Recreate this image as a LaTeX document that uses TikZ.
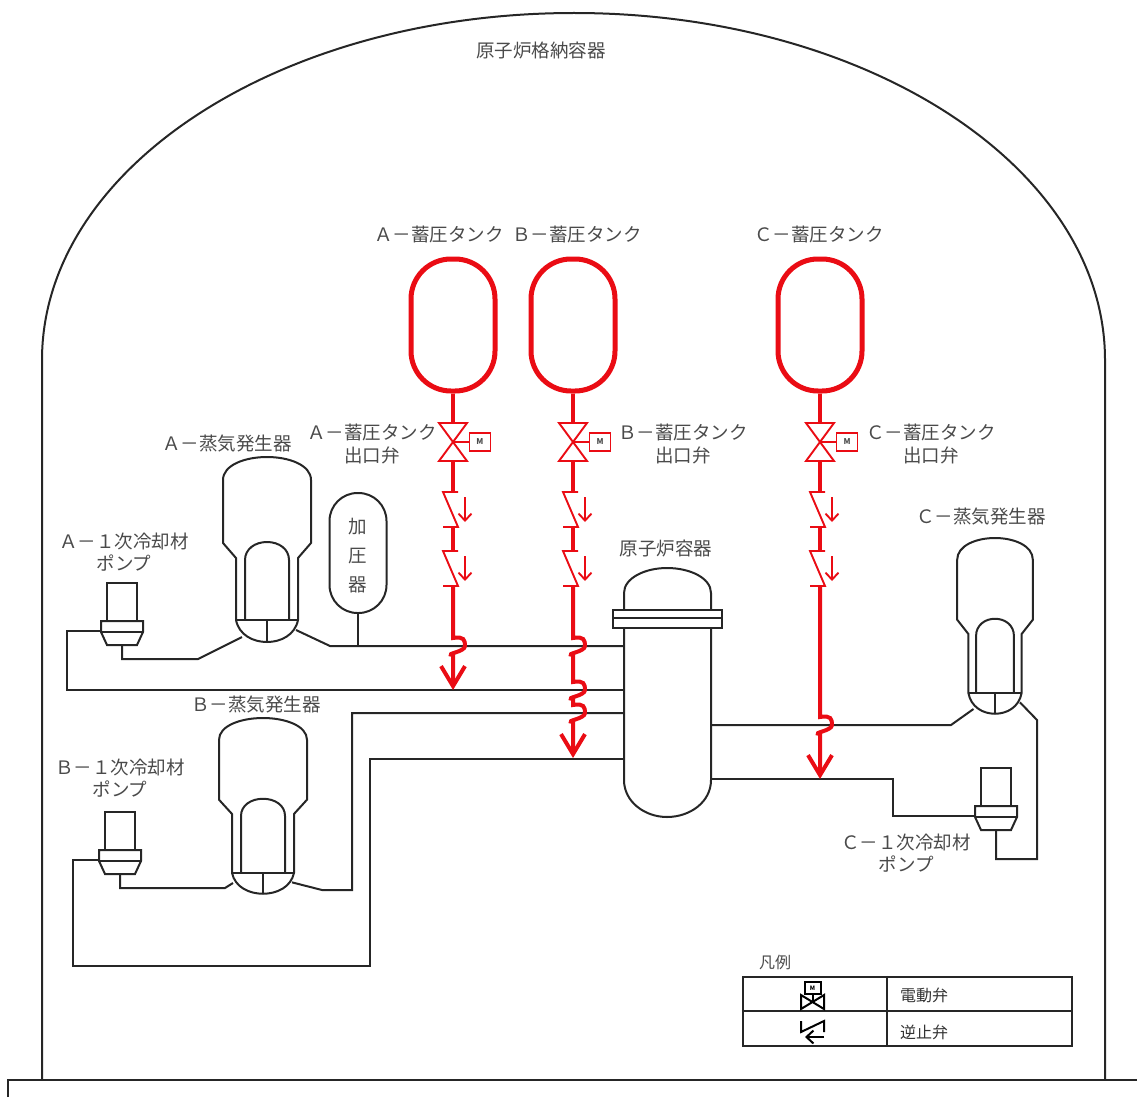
\documentclass[tikz,border=0pt]{standalone}
\usepackage{fontspec}
\setmainfont{Noto Sans CJK JP}
\usetikzlibrary{arrows.meta}
\definecolor{inj-red}{HTML}{EA0C14}
\definecolor{lbl-gray}{HTML}{4A4A4A}

\begin{document}
\begin{tikzpicture}[
    x=1pt, y=-1pt,
    pipe/.style={line width=2pt, black!85},
    inj/.style={line width=4pt, inj-red},
    thin-red/.style={line width=1.9pt, inj-red},
    lbl/.style={font=\fontsize{18.5}{22.5}\selectfont, text=lbl-gray, align=center, inner sep=0},
    leg/.style={font=\fontsize{16}{18}\selectfont, text=black!80, inner sep=0},
    tank/.style={draw=inj-red, line width=5pt, rounded corners=40pt, minimum width=84pt, minimum height=132pt},
    motor/.style={draw=inj-red, line width=1.9pt, minimum width=21pt, minimum height=18pt, inner sep=0,
                  font=\fontsize{8}{8}\selectfont\bfseries, text=black!70},
    hop/.style={insert path={.. controls +(11,-2) and +(0,-6) .. ++(12,8) .. controls +(0,6) and +(-9,-1) .. ++(-12,9)}},
    barb/.style={-{Straight Barb[length=20pt, width=24pt, line width=4pt]}},
    sgen/.pic={
        \draw[pipe] (-44,23) .. controls (-44,8) and (-22,0) .. (0,0) .. controls (22,0) and (44,8) .. (44,23)
            -- (44,86) -- (31,101) -- (31,163) .. controls (28,178) and (14,185) .. (0,185)
            .. controls (-14,185) and (-28,178) .. (-31,163) -- (-31,101) -- (-44,86) -- cycle;
        \draw[pipe] (-22,163) -- (-22,103) .. controls (-22,92) and (-12,85) .. (0,85)
            .. controls (12,85) and (22,92) .. (22,103) -- (22,163);
        \draw[pipe] (-31,163) -- (31,163) (0,163) -- (0,185);
        \coordinate (-in) at (-25,180);
        \coordinate (-out) at (29,173);
    },
    rcpump/.pic={
        \draw[pipe] (-15,0) -- (-15,-38) -- (15,-38) -- (15,0);
        \draw[pipe] (-21,0) -- (21,0) -- (21,11) -- (15,24) -- (-15,24) -- (-21,11) -- cycle;
        \draw[pipe] (-21,11) -- (21,11);
        \coordinate (-side) at (-21,10);
        \coordinate (-bot) at (0,24);
    },
    valve/.pic={
        \draw[thin-red] (-14,-19) -- (14,-19) -- (-14,19) -- (14,19) -- cycle;
        \node[motor] (-m) at (27,0) {M};
        \draw[thin-red] (0,0) -- (-m);
        \coordinate (-top) at (0,-19);
        \coordinate (-bot) at (0,19);
    },
    checkv/.pic={
        \draw[thin-red] (5,0) -- (-10,0) -- (5,35) -- (-10,35);
        \draw[thin-red, -{Straight Barb[length=7pt, width=13pt]}] (12,5) -- (12,30);
        \coordinate (-top) at (0,0);
        \coordinate (-bot) at (0,35);
    },
]
    \useasboundingbox (0,0) rectangle (1137,1097);

    % Containment vessel
    \draw[pipe] (42,1080) -- (42,360) .. controls (42,168) and (280,13) .. (574,13)
        .. controls (868,13) and (1105,168) .. (1105,360) -- (1105,1080);
    \draw[pipe] (8,1097) -- (8,1080) -- (1137,1080);
    \node[lbl] (cv) at (541,50) {原子炉格納容器};

    % Reactor vessel
    \draw[pipe] (624,593) .. controls (624,578) and (645,568) .. (667,568) .. controls (690,568) and (711,578) .. (711,593)
        -- (711,780) .. controls (711,802) and (690,817) .. (667,817) .. controls (645,817) and (624,802) .. (624,780) -- cycle;
    \draw[pipe, fill=white] (613,610) rectangle (722,628);
    \draw[pipe] (613,618) -- (722,618);
    \node[lbl] (rvlbl) at (666,548) {原子炉容器};
    \coordinate (rv-a1) at (624,646);
    \coordinate (rv-a2) at (624,690);
    \coordinate (rv-b1) at (624,713);
    \coordinate (rv-b2) at (624,759);
    \coordinate (rv-c1) at (711,725);
    \coordinate (rv-c2) at (711,779);

    % Steam generators and pumps
    \pic (sga) at (267,457) {sgen};
    \pic[yscale=.95] (sgb) at (263,718) {sgen};
    \pic[xscale=.86, yscale=.95] (sgc) at (995,538) {sgen};
    \pic (pa) at (122,621) {rcpump};
    \pic (pb) at (120,850) {rcpump};
    \pic (pc) at (996,806) {rcpump};
    \coordinate (sgb-inl) at (233,883);
    \node[lbl] (sgalbl) at (227,444) {Ａ－蒸気発生器};
    \node[lbl] (sgblbl) at (256,705) {Ｂ－蒸気発生器};
    \node[lbl] (sgclbl) at (981,517) {Ｃ－蒸気発生器};
    \node[lbl] (palbl) at (124,552) {Ａ－１次冷却材\\ポンプ};
    \node[lbl] (pblbl) at (120,778) {Ｂ－１次冷却材\\ポンプ};
    \node[lbl] (pclbl) at (906,853) {Ｃ－１次冷却材\\ポンプ};

    % Pressurizer
    \node[draw, pipe, rounded corners=28pt, minimum width=57pt, minimum height=120pt] (prz) at (358,553) {};
    \node[lbl, font=\fontsize{18.5}{29}\selectfont] (przlbl) at (358,556) {加\\圧\\器};
    \draw[pipe] (prz.south) -- (prz.south |- rv-a1);

    % Loop piping
    \draw[pipe] (sga-out) -- (330,646) -- (rv-a1);
    \draw[pipe] (sga-in) -- (198,659) -- (122,659) -- (pa-bot);
    \draw[pipe] (pa-side) -- (67,631) -- (67,690) -- (rv-a2);
    \draw[pipe] (sgb-out) -- (322,890) -- (352,890) -- (352,713) -- (rv-b1);
    \draw[pipe] (sgb-inl) -- (225,888) -- (120,888) -- (pb-bot);
    \draw[pipe] (pb-side) -- (73,860) -- (73,966) -- (370,966) -- (370,759) -- (rv-b2);
    \draw[pipe] (sgc-in) -- (951,725) -- (rv-c1);
    \draw[pipe] (sgc-out) -- (1037,720) -- (1037,859) -- (996,859) -- (pc-bot);
    \draw[pipe] (pc-side) -- (893,816) -- (893,779) -- (rv-c2);

    % Accumulator tanks
    \node[tank] (tka) at (453,325) {};
    \node[tank] (tkb) at (573,325) {};
    \node[tank] (tkc) at (820,325) {};
    \node[lbl] (tkalbl) at (439,234) {Ａ－蓄圧タンク};
    \node[lbl] (tkblbl) at (577,234) {Ｂ－蓄圧タンク};
    \node[lbl] (tkclbl) at (819,234) {Ｃ－蓄圧タンク};

    % Outlet valves and check valves
    \foreach \nm/\xx in {a/453, b/573, c/820} {
        \pic (v\nm) at (\xx,442) {valve};
        \pic (ca\nm) at (\xx,492) {checkv};
        \pic (cb\nm) at (\xx,551) {checkv};
        \draw[inj] (tk\nm) -- (v\nm-top);
        \draw[inj] (v\nm-bot) -- (ca\nm-top);
        \draw[inj] (ca\nm-bot) -- (cb\nm-top);
    }
    \node[lbl] (valbl) at (372,444) {Ａ－蓄圧タンク\\出口弁};
    \node[lbl] (vblbl) at (683,444) {Ｂ－蓄圧タンク\\出口弁};
    \node[lbl] (vclbl) at (931,444) {Ｃ－蓄圧タンク\\出口弁};

    % Injection lines
    \draw[inj, barb] (cba-bot) -- ++(0,52) [hop] -- (453,690);
    \draw[inj, barb] (cbb-bot) -- ++(0,52) [hop] -- ++(0,27) [hop] -- ++(0,6) [hop] -- (573,758);
    \draw[inj, barb] (cbc-bot) -- (820,717) [hop] -- (820,779);

    % Legend
    \node[lbl, font=\fontsize{16}{18}\selectfont] (leglbl) at (775,962) {凡例};
    \node[draw, line width=2.5pt, minimum width=329pt, minimum height=69pt, black!85] (legbox) at (907.5,1011.5) {};
    \draw[line width=2.5pt, black!85] (legbox.west) ++(0,-.5) -- ++(329,0);
    \draw[line width=2.5pt, black!85] (legbox.north) ++(-20.5,0) -- ++(0,69);
    \node[leg] (legv) at (924,995) {電動弁};
    \node[leg] (legc) at (924,1032) {逆止弁};
    \node[draw, line width=2pt, minimum width=16pt, minimum height=12pt, inner sep=0,
          font=\fontsize{6}{6}\selectfont\bfseries] (legm) at (812.5,988) {M};
    \draw[line width=2pt] (801,995) -- (801,1009) -- (824,995) -- (824,1009) -- cycle;
    \draw[line width=2pt] (legm) -- (812.5,1002);
    \draw[line width=2pt] (801,1021) -- (801,1032) -- (824,1021) -- (824,1032);
    \draw[line width=2pt, -{Straight Barb[length=7pt, width=13pt]}] (824,1037) -- (805,1037);
\end{tikzpicture}
\end{document}
